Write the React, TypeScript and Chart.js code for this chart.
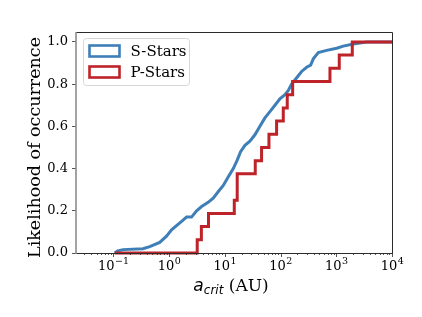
import React, { useEffect, useRef } from 'react';
import { Chart, registerables } from 'chart.js';

Chart.register(...registerables);

// ---- data ----
const seriesLabels = ['S-Stars', 'P-Stars'];

const sStarsX = [0.106, 0.12, 0.15, 0.34, 0.45, 0.68, 0.9, 1.11, 1.36, 1.68, 2.06, 2.53, 3.12, 3.84, 5.03, 6.2, 7.6, 9.4, 11.5, 14.2, 16.7, 19.2, 23, 28.2, 34.7, 42.7, 52.5, 64.5, 79.4, 97.5, 120, 138, 158, 195, 239, 294, 347, 387, 476, 673, 1017, 1337, 2018, 3508, 10000];
const sStarsY = [0, 0.01, 0.016, 0.02, 0.03, 0.05, 0.08, 0.11, 0.13, 0.15, 0.17, 0.17, 0.2, 0.22, 0.24, 0.26, 0.29, 0.32, 0.36, 0.4, 0.44, 0.48, 0.51, 0.53, 0.56, 0.6, 0.64, 0.67, 0.7, 0.73, 0.75, 0.77, 0.8, 0.83, 0.86, 0.88, 0.89, 0.92, 0.95, 0.96, 0.97, 0.98, 0.99, 1.0, 1.0];

const pStarsX = [0.106, 3.2, 3.8, 5.1, 14.8, 16.7, 35.2, 45.7, 62, 85, 112, 132, 165, 771, 1132, 1938, 10000];
const pStarsY = [0, 0.0625, 0.125, 0.1875, 0.25, 0.375, 0.4375, 0.5, 0.5625, 0.625, 0.6875, 0.75, 0.8125, 0.875, 0.9375, 1.0, 1.0];

const yTickValues = [0, 0.2, 0.4, 0.6, 0.8, 1.0];
const xMajorExps = [-1, 0, 1, 2, 3, 4];
const X_MIN = 0.0214;
const X_MAX = 10000;
const Y_MIN = 0;
const Y_MAX = 1.047;

const xTitleMain = 'a';
const xTitleSub = 'crit';
const xTitleRest = ' (AU)';
const yTitle = 'Likelihood of occurrence';

const BLUE = '#3f7fb7';
const RED = '#bd2329';
const SERIF = '"DejaVu Serif", serif';
const SANS = '"DejaVu Sans", sans-serif';

const decor = {
  id: 'decor',
  afterDraw(chart: any) {
    const { ctx, chartArea: a, scales } = chart;
    const x = scales.x;
    ctx.save();

    // spines
    ctx.strokeStyle = '#2b2b2b';
    ctx.lineWidth = 1;
    ctx.beginPath();
    ctx.moveTo(a.left, a.top + 0.5);
    ctx.lineTo(a.right + 0.5, a.top + 0.5);
    ctx.lineTo(a.right + 0.5, a.bottom + 0.5);
    ctx.lineTo(a.left, a.bottom + 0.5);
    ctx.stroke();
    ctx.strokeStyle = '#8c8c8c';
    ctx.lineWidth = 1.6;
    ctx.beginPath();
    ctx.moveTo(a.left, a.top);
    ctx.lineTo(a.left, a.bottom + 1);
    ctx.stroke();

    // x ticks (major + minor)
    ctx.strokeStyle = '#2b2b2b';
    ctx.lineWidth = 0.8;
    for (let e = -2; e <= 4; e++) {
      for (let m = 1; m <= 9; m++) {
        const v = m * Math.pow(10, e);
        if (v < X_MIN || v > X_MAX * 1.0001) continue;
        const px = Math.round(x.getPixelForValue(v)) + 0.5;
        const len = m === 1 ? 4 : 2;
        ctx.beginPath();
        ctx.moveTo(px, a.bottom);
        ctx.lineTo(px, a.bottom + len);
        ctx.stroke();
      }
    }

    // x tick labels 10^e
    ctx.fillStyle = '#000';
    ctx.textBaseline = 'alphabetic';
    ctx.textAlign = 'left';
    for (const e of xMajorExps) {
      const px = x.getPixelForValue(Math.pow(10, e));
      ctx.font = `13px ${SERIF}`;
      const wBase = ctx.measureText('10').width;
      const expStr = e < 0 ? '\u2212' + Math.abs(e) : String(e);
      ctx.font = `9.5px ${SERIF}`;
      const wExp = ctx.measureText(expStr).width;
      const start = px - (wBase + wExp) / 2;
      ctx.font = `13px ${SERIF}`;
      ctx.fillText('10', start, a.bottom + 17);
      ctx.font = `9.5px ${SERIF}`;
      ctx.fillText(expStr, start + wBase + 0.5, a.bottom + 10.5);
    }

    // x title
    const cx = (a.left + a.right) / 2 - 3;
    ctx.font = `italic 17px ${SANS}`;
    const w1 = ctx.measureText(xTitleMain).width;
    ctx.font = `italic 12px ${SANS}`;
    const w2 = ctx.measureText(xTitleSub).width;
    ctx.font = `17px ${SERIF}`;
    const w3 = ctx.measureText(xTitleRest).width;
    let sx = cx - (w1 + w2 + w3) / 2;
    const baseY = a.bottom + 38;
    ctx.font = `italic 17px ${SANS}`;
    ctx.fillText(xTitleMain, sx, baseY);
    sx += w1;
    ctx.font = `italic 12px ${SANS}`;
    ctx.fillText(xTitleSub, sx, baseY + 3);
    sx += w2;
    ctx.font = `17px ${SERIF}`;
    ctx.fillText(xTitleRest, sx, baseY);

    // y title
    ctx.save();
    ctx.translate(35, (a.top + a.bottom) / 2 + 5);
    ctx.rotate(-Math.PI / 2);
    ctx.font = `17.5px ${SERIF}`;
    ctx.textAlign = 'center';
    ctx.textBaseline = 'middle';
    ctx.fillText(yTitle, 0, 0);
    ctx.restore();

    // legend
    const lx = a.left + 7.5, ly = a.top + 6.5, lw = 106, lh = 47, r = 3;
    ctx.beginPath();
    ctx.moveTo(lx + r, ly);
    ctx.lineTo(lx + lw - r, ly);
    ctx.arcTo(lx + lw, ly, lx + lw, ly + r, r);
    ctx.lineTo(lx + lw, ly + lh - r);
    ctx.arcTo(lx + lw, ly + lh, lx + lw - r, ly + lh, r);
    ctx.lineTo(lx + r, ly + lh);
    ctx.arcTo(lx, ly + lh, lx, ly + lh - r, r);
    ctx.lineTo(lx, ly + r);
    ctx.arcTo(lx, ly, lx + r, ly, r);
    ctx.closePath();
    ctx.fillStyle = 'rgba(255,255,255,0.85)';
    ctx.fill();
    ctx.strokeStyle = '#d6d6d6';
    ctx.lineWidth = 1;
    ctx.stroke();

    const colors = [BLUE, RED];
    chart.data.datasets.forEach((ds: any, i: number) => {
      const rowY = ly + 12.5 + i * 21;
      ctx.strokeStyle = colors[i];
      ctx.lineWidth = 2.6;
      ctx.strokeRect(lx + 6, rowY - 5.5, 30, 11);
      ctx.fillStyle = '#000';
      ctx.font = `15px ${SERIF}`;
      ctx.textAlign = 'left';
      ctx.textBaseline = 'middle';
      ctx.fillText(ds.label, lx + 47, rowY + 1);
    });

    ctx.restore();
  },
};

export default function App() {
  const ref = useRef<HTMLCanvasElement>(null);

  useEffect(() => {
    if (!ref.current) return;
    const chart = new Chart(ref.current, {
      type: 'line',
      data: {
        datasets: [
          {
            label: seriesLabels[0],
            data: sStarsX.map((v, i) => ({ x: v, y: sStarsY[i] })),
            borderColor: BLUE,
            borderWidth: 3,
            pointRadius: 0,
            tension: 0,
            fill: false,
            clip: false as any,
            order: 1,
          },
          {
            label: seriesLabels[1],
            data: pStarsX.map((v, i) => ({ x: v, y: pStarsY[i] })),
            borderColor: RED,
            borderWidth: 3,
            pointRadius: 0,
            stepped: 'before',
            fill: false,
            clip: false as any,
            order: 0,
          },
        ],
      },
      options: {
        responsive: false,
        animation: false,
        devicePixelRatio: 1,
        layout: { padding: { top: 32, right: 30, bottom: 64, left: 0 } },
        plugins: {
          legend: { display: false },
          tooltip: { enabled: false },
          title: { display: false },
        },
        scales: {
          x: {
            type: 'logarithmic',
            min: X_MIN,
            max: X_MAX,
            display: false,
          },
          y: {
            type: 'linear',
            min: Y_MIN,
            max: Y_MAX,
            afterBuildTicks: (scale: any) => {
              scale.ticks = yTickValues.map((v) => ({ value: v }));
            },
            afterFit: (scale: any) => {
              scale.width = 76;
            },
            border: { display: false },
            grid: {
              drawOnChartArea: false,
              drawTicks: true,
              tickLength: 4,
              color: '#2b2b2b',
              lineWidth: 0.8,
            },
            ticks: {
              font: { family: SERIF, size: 13 },
              color: '#000',
              padding: 4,
              callback: (v: any) => Number(v).toFixed(1),
            },
          },
        },
      },
      plugins: [decor],
    });
    return () => chart.destroy();
  }, []);

  return (
    <div style={{ position: 'absolute', left: 0, top: 0, width: 422, height: 317, background: '#fff' }}>
      <canvas ref={ref} width={422} height={317} style={{ display: 'block' }} />
    </div>
  );
}
